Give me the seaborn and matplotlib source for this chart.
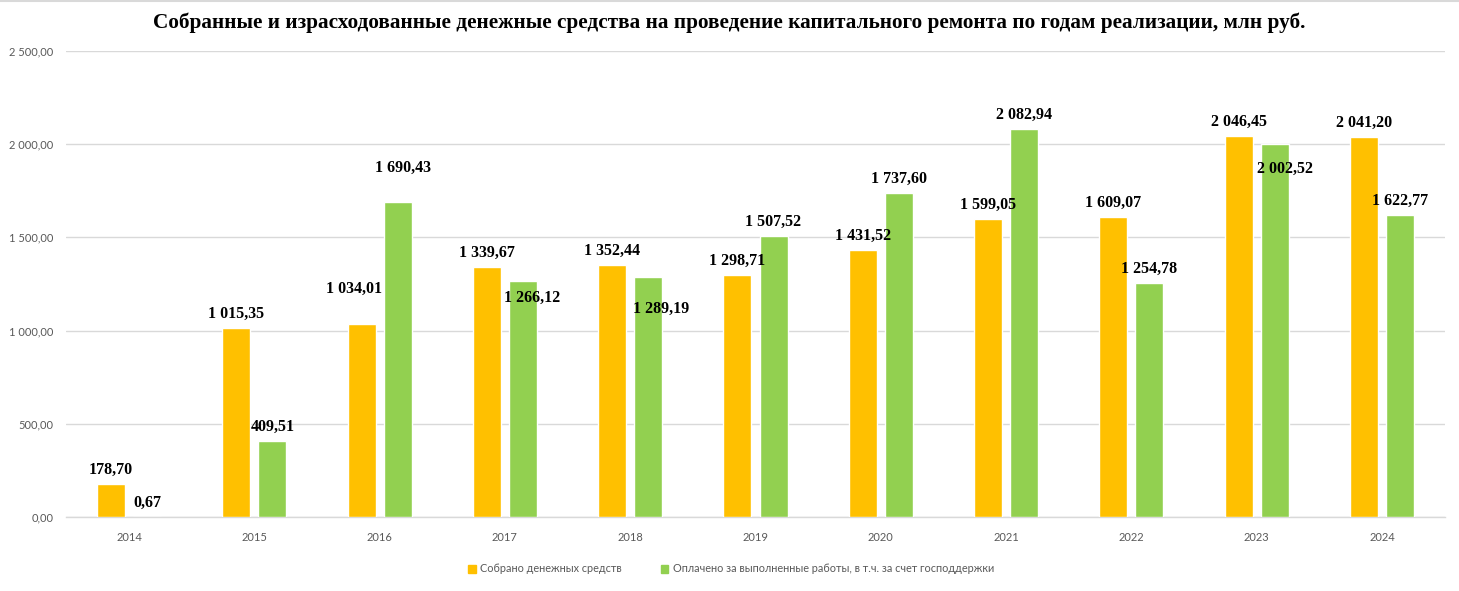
import matplotlib
matplotlib.use("Agg")
import matplotlib.pyplot as plt
from matplotlib.lines import Line2D
from matplotlib.ticker import FuncFormatter
import seaborn as sns
import pandas as pd

# ---- data ----
years = ["2014", "2015", "2016", "2017", "2018", "2019", "2020", "2021", "2022", "2023", "2024"]
collected = [178.70, 1015.35, 1034.01, 1339.67, 1352.44, 1298.71, 1431.52, 1599.05, 1609.07, 2046.45, 2041.20]
paid = [0.67, 409.51, 1690.43, 1266.12, 1289.19, 1507.52, 1737.60, 2082.94, 1254.78, 2002.52, 1622.77]
series_names = ["Собрано денежных средств",
                "Оплачено за выполненные работы, в т.ч. за счет господдержки"]
title = "Собранные и израсходованные денежные средства на проведение капитального ремонта по годам реализации, млн руб."

df = pd.DataFrame({
    "year": years * 2,
    "value": collected + paid,
    "series": [series_names[0]] * len(years) + [series_names[1]] * len(years),
})

# ---- style ----
colors = ["#FFC000", "#92D050"]
grid_c = "#D9D9D9"
text_c = "#595959"
# manual label nudges (pixels) as in the original chart: (series, year index) -> (dx, dy)
label_nudge = {(0, 2): (-8, 21), (1, 2): (5, 20), (1, 3): (9, -31),
               (1, 4): (13, -46), (1, 9): (10, -39)}

sns.set_style("white")
plt.rcParams["font.family"] = ["Lato", "DejaVu Sans"]

fig = plt.figure(figsize=(14.59, 5.91), dpi=100)
ax = fig.add_axes([66.4 / 1459, 74 / 591, (1444.6 - 66.4) / 1459, (517 - 51) / 591])

sns.barplot(data=df, x="year", y="value", hue="series", palette=colors,
            width=0.575, gap=0.223, ax=ax, saturation=1, errorbar=None, zorder=3)

ax.set_ylim(0, 2500)
ax.set_yticks([0, 500, 1000, 1500, 2000, 2500])
ax.set_xlim(-0.5, len(years) - 0.5)


def fmt_num(v):
    s = f"{v:,.2f}"
    return s.replace(",", "\u00a0").replace(".", ",")


ax.yaxis.set_major_formatter(FuncFormatter(lambda v, p: fmt_num(v)))
ax.grid(axis="y", color=grid_c, linewidth=1, zorder=0)
ax.set_axisbelow(True)
for s in ["top", "right", "left"]:
    ax.spines[s].set_visible(False)
ax.spines["bottom"].set_color(grid_c)
ax.spines["bottom"].set_linewidth(1)
ax.tick_params(axis="both", length=0, labelsize=8, labelcolor=text_c)
ax.tick_params(axis="y", pad=9.5)
ax.tick_params(axis="x", pad=11)
ax.set_xlabel("")
ax.set_ylabel("")

# data labels
for si, cont in enumerate(ax.containers):
    for yi, bar in enumerate(cont):
        h = bar.get_height()
        xc = bar.get_x() + bar.get_width() / 2
        dx, dy = label_nudge.get((si, yi), (0, 0))
        ax.annotate(fmt_num(h), xy=(xc, h), xytext=(dx, 14 + dy),
                    textcoords="offset pixels", ha="center", va="center",
                    fontsize=11.5, fontweight="bold", family="Liberation Serif",
                    color="black", zorder=5, annotation_clip=False)

# legend
handles = [plt.Rectangle((0, 0), 1, 1, color=c) for c in colors]
ax.legend(handles, series_names, loc="center", bbox_to_anchor=(731 / 1459, 1 - 569 / 591),
          bbox_transform=fig.transFigure, ncol=2, frameon=False, fontsize=7.8,
          labelcolor=text_c, handlelength=0.7, handleheight=0.7, handletextpad=0.4,
          columnspacing=3.6)

fig.text(0.5, 1 - 23 / 591, title, ha="center", va="center", fontsize=15.3,
         fontweight="bold", family="Liberation Serif", color="black")

fig.add_artist(Line2D([0, 1], [0.999, 0.999], transform=fig.transFigure, color=grid_c, lw=1.5))

fig.savefig("out.png", dpi=100, facecolor="white")
